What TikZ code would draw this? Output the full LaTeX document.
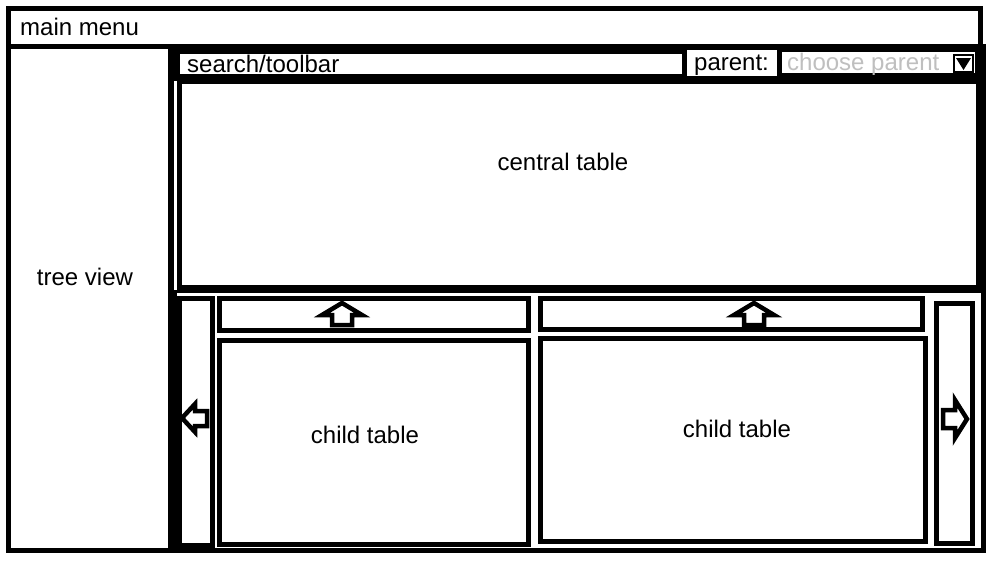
\documentclass[tikz,border=0pt]{standalone}
\usepackage{fontspec}
\setmainfont{Liberation Sans}
\begin{document}
\begin{tikzpicture}[
    x=1pt, y=-1pt,
    every node/.style={inner sep=0pt, font=\fontsize{24}{28}\selectfont},
    frame/.style={draw, line width=5pt},
    panel/.style={draw, line width=5pt},
    blockarrow/.style={draw, line width=4.5pt, line join=miter},
    hint/.style={text=black!25}
    ]
    \useasboundingbox (0,0) rectangle (999,563);
    % menu e moldura externa
    \draw[frame] (8,8) rectangle (980,46);
    \draw[frame] (8,46) rectangle (983,550);
    \draw[line width=6pt] (171,46) -- (171,550);
    \node[anchor=base west] (menu) at (20,35) {main menu};
    \node (tree) at (85,277) {tree view};
    % barra de busca
    \fill (168,44) rectangle (983,81);
    \fill[white] (180,54) rectangle (682,74);
    \fill[white] (687,50) rectangle (777,76);
    \fill[white] (782,52) rectangle (975,73);
    \node[anchor=base west] (search) at (187,72) {search/toolbar};
    \node[anchor=base west] (parent) at (694,70) {parent:};
    \node[anchor=base west, hint] (choose) at (787,70) {choose parent};
    \draw[line width=1.5pt] (954,55) rectangle (973,72);
    \fill (956,58) -- (971,58) -- (963.5,70) -- cycle;
    % tabela central
    \draw[panel] (179,81) rectangle (978,287);
    \node (central) at (563,162) {central table};
    % tabelas filhas
    \draw[line width=3pt] (175,291) rectangle (983,550);
    \draw[panel] (179,298) rectangle (212,545);
    \draw[panel] (219,298) rectangle (528,330);
    \draw[panel] (219,340) rectangle (528,544);
    \draw[panel] (540,298) rectangle (922,329);
    \draw[panel] (540,338) rectangle (925,541);
    \draw[panel] (936,303) rectangle (972,543);
    \node (childA) at (365,435) {child table};
    \node (childB) at (737,429) {child table};
    \foreach \cx in {342,754} {
      \draw[blockarrow] (\cx-20,315) -- (\cx,303) -- (\cx+20,315) -- (\cx+10,315)
        -- (\cx+10,325) -- (\cx-10,325) -- (\cx-10,315) -- cycle;
    }
    \draw[blockarrow] (182,418) -- (195,404) -- (195,411) -- (207,411)
      -- (207,426) -- (195,426) -- (195,432) -- cycle;
    \draw[blockarrow] (967,419) -- (955,400) -- (955,410) -- (943,410)
      -- (943,428) -- (955,428) -- (955,438) -- cycle;
\end{tikzpicture}
\end{document}
